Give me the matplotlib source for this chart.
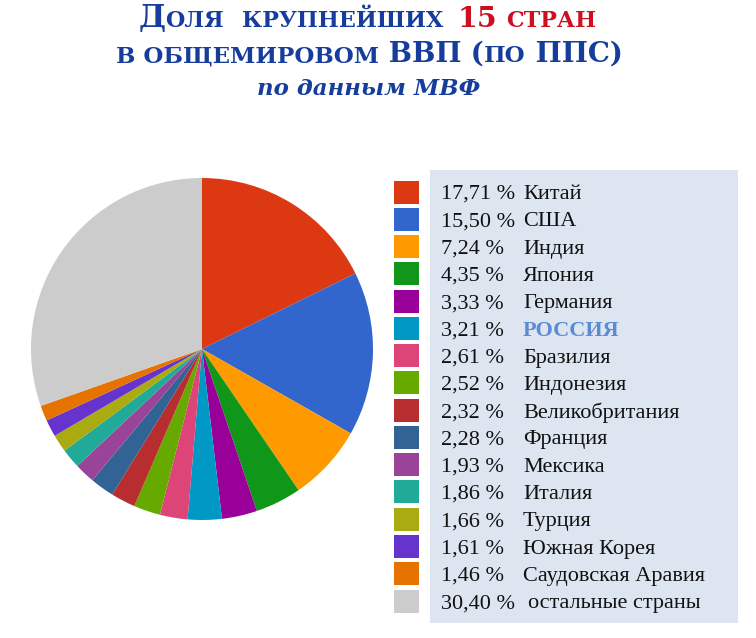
import matplotlib
matplotlib.use('Agg')
import matplotlib.pyplot as plt
from matplotlib.patches import Rectangle

# ---------------- data ----------------
countries = ["Китай", "США", "Индия", "Япония", "Германия", "РОССИЯ", "Бразилия",
             "Индонезия", "Великобритания", "Франция", "Мексика", "Италия", "Турция",
             "Южная Корея", "Саудовская Аравия", "остальные страны"]
shares = [17.71, 15.50, 7.24, 4.35, 3.33, 3.21, 2.61, 2.52, 2.32, 2.28, 1.93, 1.86,
          1.66, 1.61, 1.46, 30.40]
colors = ["#dc3912", "#3366cc", "#ff9900", "#109618", "#990099", "#0099c6", "#dd4477",
          "#66aa00", "#b82e2e", "#316395", "#994499", "#22aa99", "#aaaa11", "#6633cc",
          "#e67300", "#cccccc"]

W, H = 756, 638
fig = plt.figure(figsize=(W / 100, H / 100), dpi=100)
fig.patch.set_facecolor("white")

SERIF = ["Liberation Serif", "DejaVu Serif"]
TSERIF = ["DejaVu Serif"]
BLUE = "#163d9c"
RED = "#cc1020"

# ---------------- pie ----------------
cx, cy, R = 202, 349, 171
ax = fig.add_axes([(cx - R) / W, (H - cy - R) / H, 2 * R / W, 2 * R / H])
ax.pie(shares, colors=colors, startangle=90, counterclock=False,
       wedgeprops=dict(linewidth=0))
ax.set_xlim(-1, 1)
ax.set_ylim(-1, 1)
ax.set_axis_off()

# ---------------- legend ----------------
def fx(x):
    return x / W

def fy(y):
    return 1 - y / H

bg = Rectangle((fx(430), fy(623)), (738 - 430) / W, (623 - 170) / H,
               transform=fig.transFigure, facecolor="#dce5f0", edgecolor="none")
fig.patches.append(bg)

row0, pitch = 192, 27.27
for i, (name, val, col) in enumerate(zip(countries, shares, colors)):
    yc = row0 + i * pitch
    sq = Rectangle((fx(394), fy(yc + 11.5)), 25 / W, 23 / H,
                   transform=fig.transFigure, facecolor=col, edgecolor="none")
    fig.patches.append(sq)
    pct = f"{val:.2f}".replace(".", ",") + " %"
    fig.text(fx(441), fy(yc), pct, fontsize=16, family=SERIF, color="#111111",
             va="center_baseline", ha="left")
    if name == "РОССИЯ":
        fig.text(fx(523), fy(yc), name, fontsize=16, family=SERIF, color="#5b8ad6",
                 fontweight="bold", va="center_baseline", ha="left")
    else:
        xn = 528 if i == len(countries) - 1 else 523
        fig.text(fx(xn), fy(yc), name, fontsize=16, family=SERIF, color="#111111",
                 va="center_baseline", ha="left")

# ---------------- title (emulated small caps) ----------------
renderer = fig.canvas.get_renderer()

def make_pieces(pieces, baseline_y, style="normal"):
    texts, widths = [], []
    for s, size, color in pieces:
        t = fig.text(0, fy(baseline_y), s, fontsize=size, color=color,
                     fontweight="bold", fontstyle=style, family=TSERIF,
                     va="baseline", ha="left")
        texts.append(t)
        widths.append(t.get_window_extent(renderer).width)
    return texts, widths

def place(texts, widths, x):
    for t, w in zip(texts, widths):
        t.set_x(fx(x))
        x += w

def title_line(pieces, baseline_y, center=369, style="normal"):
    texts, widths = make_pieces(pieces, baseline_y, style)
    place(texts, widths, center - sum(widths) / 2)

# line 1: each word centred in its span of the (wider) original font
title_line([("Д", 22, BLUE), ("ОЛЯ", 16, BLUE)], 27, center=181)
title_line([("КРУПНЕЙШИХ", 16, BLUE)], 27, center=343)
title_line([("15", 20.5, RED)], 27, center=477)
title_line([("СТРАН", 16, RED)], 27, center=551)

title_line([("В ОБЩЕМИРОВОМ", 16.5, BLUE), (" ВВП", 20, BLUE),
            (" (", 20, BLUE), ("ПО", 16.5, BLUE), (" ППС)", 20, BLUE)], 62)
title_line([("по данным МВФ", 16.5, BLUE)], 95, style="italic")

fig.savefig("out.png", dpi=100)
